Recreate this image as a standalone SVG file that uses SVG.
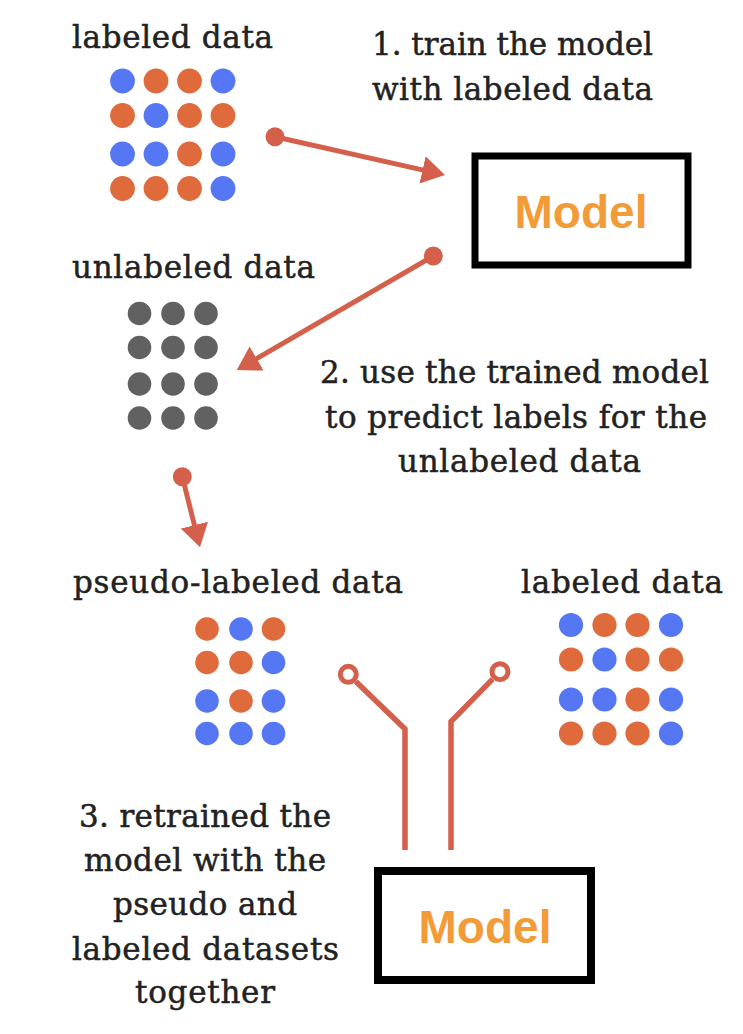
<svg xmlns="http://www.w3.org/2000/svg" width="743" height="1034" viewBox="0 0 743 1034">
<style>
.t{font-family:"DejaVu Serif","Liberation Serif",serif;font-size:31px;fill:#222;stroke:#222;stroke-width:0.5;text-anchor:middle}
.m{font-family:"Liberation Sans",Arial,sans-serif;font-weight:bold;font-size:46px;fill:#f29b38;text-anchor:middle}
.box{fill:#fff;stroke:#000}
.b{fill:#5577f4}
.o{fill:#df6b3d}
.g{fill:#616161}
.ln{stroke:#d4604c;stroke-width:5;fill:none}
.cn{stroke:#d4604c;stroke-width:5.5;fill:none}
.dot{fill:#d4604c}
.ring{fill:none;stroke:#d4604c;stroke-width:5}
</style>
<defs>
<marker id="ah" viewBox="0 -14 23 28" refX="2" refY="0" markerWidth="23" markerHeight="28" markerUnits="userSpaceOnUse" orient="auto">
<path d="M0,-14 L23,0 L0,14 Z" fill="#d4604c"/>
</marker>
</defs>
<rect width="743" height="1034" fill="#fff"/>

<g id="labeled-top">
<text class="t" x="172.5" y="48" textLength="201">labeled data</text>
<circle class="b" cx="122.5" cy="81" r="12.4"/><circle class="o" cx="156" cy="81" r="12.4"/><circle class="o" cx="189.5" cy="81" r="12.4"/><circle class="b" cx="223" cy="81" r="12.4"/>
<circle class="o" cx="122.5" cy="115.5" r="12.4"/><circle class="b" cx="156" cy="115.5" r="12.4"/><circle class="o" cx="189.5" cy="115.5" r="12.4"/><circle class="o" cx="223" cy="115.5" r="12.4"/>
<circle class="b" cx="122.5" cy="154" r="12.4"/><circle class="b" cx="156" cy="154" r="12.4"/><circle class="o" cx="189.5" cy="154" r="12.4"/><circle class="b" cx="223" cy="154" r="12.4"/>
<circle class="o" cx="122.5" cy="188.5" r="12.4"/><circle class="o" cx="156" cy="188.5" r="12.4"/><circle class="o" cx="189.5" cy="188.5" r="12.4"/><circle class="b" cx="223" cy="188.5" r="12.4"/>
</g>

<g id="step1-label">
<text class="t" x="512.5" y="55" textLength="281">1. train the model</text>
<text class="t" x="512.5" y="100" textLength="281">with labeled data</text>
</g>

<g id="model-top">
<rect class="box" x="475" y="156" width="213" height="109" stroke-width="7"/>
<text class="m" x="581" y="228">Model</text>
</g>

<g id="unlabeled">
<text class="t" x="193.5" y="278" textLength="243">unlabeled data</text>
<circle class="g" cx="139.5" cy="313.5" r="11.8"/><circle class="g" cx="173" cy="313.5" r="11.8"/><circle class="g" cx="206" cy="313.5" r="11.8"/>
<circle class="g" cx="139.5" cy="347.5" r="11.8"/><circle class="g" cx="173" cy="347.5" r="11.8"/><circle class="g" cx="206" cy="347.5" r="11.8"/>
<circle class="g" cx="139.5" cy="384" r="11.8"/><circle class="g" cx="173" cy="384" r="11.8"/><circle class="g" cx="206" cy="384" r="11.8"/>
<circle class="g" cx="139.5" cy="418" r="11.8"/><circle class="g" cx="173" cy="418" r="11.8"/><circle class="g" cx="206" cy="418" r="11.8"/>
</g>

<g id="step2-label">
<text class="t" x="514.5" y="383" textLength="389">2. use the trained model</text>
<text class="t" x="516" y="428" textLength="382">to predict labels for the</text>
<text class="t" x="519.5" y="472" textLength="243">unlabeled data</text>
</g>

<g id="pseudo-labeled">
<text class="t" x="238" y="593" textLength="330">pseudo-labeled data</text>
<circle class="o" cx="207" cy="629" r="11.8"/><circle class="b" cx="241" cy="629" r="11.8"/><circle class="o" cx="273.5" cy="629" r="11.8"/>
<circle class="o" cx="207" cy="662.5" r="11.8"/><circle class="o" cx="241" cy="662.5" r="11.8"/><circle class="b" cx="273.5" cy="662.5" r="11.8"/>
<circle class="b" cx="207" cy="701" r="11.8"/><circle class="o" cx="241" cy="701" r="11.8"/><circle class="b" cx="273.5" cy="701" r="11.8"/>
<circle class="b" cx="207" cy="733.5" r="11.8"/><circle class="b" cx="241" cy="733.5" r="11.8"/><circle class="b" cx="273.5" cy="733.5" r="11.8"/>
</g>

<g id="labeled-bottom">
<text class="t" x="622" y="593" textLength="202">labeled data</text>
<circle class="b" cx="571" cy="625" r="12.1"/><circle class="o" cx="604.5" cy="625" r="12.1"/><circle class="o" cx="637.5" cy="625" r="12.1"/><circle class="b" cx="671" cy="625" r="12.1"/>
<circle class="o" cx="571" cy="659.5" r="12.1"/><circle class="b" cx="604.5" cy="659.5" r="12.1"/><circle class="o" cx="637.5" cy="659.5" r="12.1"/><circle class="o" cx="671" cy="659.5" r="12.1"/>
<circle class="b" cx="571" cy="699.5" r="12.1"/><circle class="b" cx="604.5" cy="699.5" r="12.1"/><circle class="o" cx="637.5" cy="699.5" r="12.1"/><circle class="b" cx="671" cy="699.5" r="12.1"/>
<circle class="o" cx="571" cy="733.5" r="12.1"/><circle class="o" cx="604.5" cy="733.5" r="12.1"/><circle class="o" cx="637.5" cy="733.5" r="12.1"/><circle class="b" cx="671" cy="733.5" r="12.1"/>
</g>

<g id="step3-label">
<text class="t" x="205" y="827" textLength="252">3. retrained the</text>
<text class="t" x="205" y="871" textLength="242">model with the</text>
<text class="t" x="205" y="915" textLength="184">pseudo and</text>
<text class="t" x="205.5" y="960" textLength="267">labeled datasets</text>
<text class="t" x="205" y="1003" textLength="140">together</text>
</g>

<g id="model-bottom">
<rect class="box" x="378" y="871" width="213" height="109" stroke-width="8"/>
<text class="m" x="485" y="943">Model</text>
</g>

<g id="connectors">
<circle class="dot" cx="275" cy="136.7" r="9.5"/>
<line class="ln" x1="275" y1="136.7" x2="424.5" y2="170.4" marker-end="url(#ah)"/>
<circle class="dot" cx="433.3" cy="256" r="9.5"/>
<line class="ln" x1="433.3" y1="256" x2="254.9" y2="359.5" marker-end="url(#ah)"/>
<circle class="dot" cx="182.3" cy="476.7" r="9.5"/>
<line class="ln" x1="182.3" y1="476.7" x2="194.9" y2="527" marker-end="url(#ah)"/>
<circle class="ring" cx="348.3" cy="674.3" r="8"/>
<path class="cn" d="M355.8,681.6 L405,729 L405,850"/>
<circle class="ring" cx="500" cy="671.7" r="8"/>
<path class="cn" d="M492.6,679.2 L451,721.7 L451,850"/>
</g>
</svg>
